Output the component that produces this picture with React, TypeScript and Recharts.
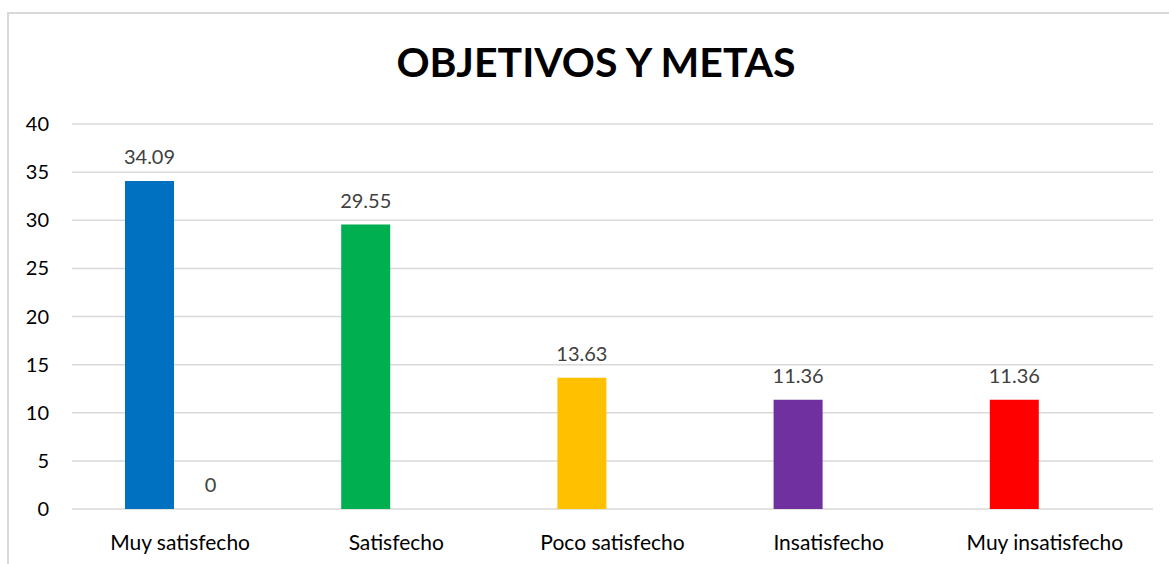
import React from 'react';
import { BarChart, Bar, Cell, XAxis, YAxis, CartesianGrid, LabelList } from 'recharts';

const categories = ['Muy satisfecho', 'Satisfecho', 'Poco satisfecho', 'Insatisfecho', 'Muy insatisfecho'];
const serie1 = [34.09, 29.55, 13.63, 11.36, 11.36];
const serie2 = [0, null, null, null, null];
const barColors = ['#0070C0', '#00B050', '#FFC000', '#7030A0', '#FF0000'];
const yTicks = [0, 5, 10, 15, 20, 25, 30, 35, 40];

const data = categories.map((name, i) => ({
  name,
  serie1: serie1[i],
  serie2: serie2[i],
}));

const font = 'Lato, sans-serif';

export default function App() {
  return (
    <div style={{ position: 'absolute', left: 0, top: 0, width: 1169, height: 564, background: '#fff', fontFamily: font }}>
      <div
        style={{
          position: 'absolute',
          left: 7,
          top: 12,
          width: 1162,
          height: 552,
          borderTop: '2px solid #d9d9d9',
          borderLeft: '2px solid #d9d9d9',
        }}
      />
      <div
        style={{
          position: 'absolute',
          left: 23,
          width: 1146,
          top: 41,
          textAlign: 'center',
          fontSize: 41,
          lineHeight: '41px',
          fontWeight: 'bold',
          color: '#000',
        }}
      >
        OBJETIVOS Y METAS
      </div>
      <div style={{ position: 'absolute', left: 0, top: 0 }}>
        <BarChart
          width={1169}
          height={564}
          data={data}
          barSize={49}
          barGap={12}
          margin={{ top: 124, right: 16, left: 12, bottom: 0 }}
        >
          <CartesianGrid vertical={false} stroke="#d9d9d9" strokeWidth={1.5} />
          <XAxis
            dataKey="name"
            axisLine={false}
            tickLine={false}
            tickSize={0}
            tickMargin={26}
            height={55}
            interval={0}
            tick={{ fill: '#000', fontSize: 21, fontFamily: font }}
          />
          <YAxis
            domain={[0, 40]}
            ticks={yTicks}
            axisLine={false}
            tickLine={false}
            tickSize={0}
            tickMargin={23}
            width={60}
            tick={{ fill: '#000', fontSize: 20, fontFamily: font }}
          />
          <Bar dataKey="serie1" isAnimationActive={false}>
            {data.map((d, i) => (
              <Cell key={d.name} fill={barColors[i]} />
            ))}
            <LabelList dataKey="serie1" position="top" offset={17} fill="#404040" fontSize={20} fontFamily={font} />
          </Bar>
          <Bar dataKey="serie2" fill="transparent" minPointSize={1} isAnimationActive={false}>
            <LabelList dataKey="serie2" position="top" offset={16} fill="#404040" fontSize={20} fontFamily={font} />
          </Bar>
        </BarChart>
      </div>
    </div>
  );
}
